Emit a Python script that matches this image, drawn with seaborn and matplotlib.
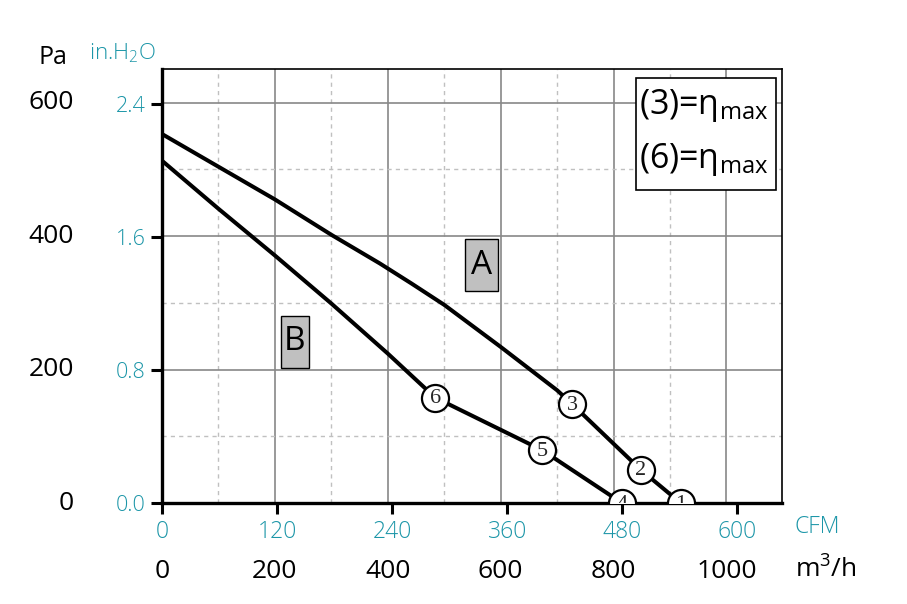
import numpy as np
import pandas as pd
import matplotlib
matplotlib.use("Agg")
import matplotlib.pyplot as plt
import seaborn as sns
from matplotlib.patches import Rectangle
from matplotlib.transforms import blended_transform_factory

# ---------------- data ----------------
curve_a_flow = [0, 100, 200, 300, 386, 442, 500, 600, 700, 727, 848, 919]
curve_a_pa = [553, 504, 455, 402, 359, 329, 297, 234, 169, 148, 50, 0]
curve_b_flow = [0, 100, 200, 300, 400, 484, 674, 815]
curve_b_pa = [513, 441, 371, 299, 224, 158, 79, 0]
point_ids = ["1", "2", "3", "4", "5", "6"]
point_flow = [919, 848, 727, 815, 674, 484]
point_pa = [0, 50, 148, 0, 79, 158]
curve_names = ["A", "B"]
pa_ticks = [0, 200, 400, 600]
inh2o_ticks = [0.0, 0.8, 1.6, 2.4]
m3h_ticks = [0, 200, 400, 600, 800, 1000]
cfm_ticks = [0, 120, 240, 360, 480, 600]

CFM_TO_M3H = 1.69901
INH2O_TO_PA = 249.089
TEAL = "#1c96a8"

sns.set_style("white")
plt.rcParams["font.family"] = ["Open Sans", "DejaVu Sans"]
plt.rcParams["mathtext.default"] = "regular"

W, H = 907, 604
fig = plt.figure(figsize=(W / 100, H / 100), dpi=100)
L, R, T, B = 162, 781.7, 69.3, 503
ax = fig.add_axes([L / W, 1 - B / H, (R - L) / W, (B - T) / H])
ax.set_xlim(0, 1098)
ax.set_ylim(0, 650)

# grid
for v in [100, 300, 500, 700, 900]:
    ax.axvline(v, color="#c0c0c0", lw=1, ls=(0, (3, 3)), zorder=0)
for v in [200, 400, 600, 800, 1000]:
    ax.axvline(v, color="#888888", lw=1.2, zorder=0)
for v in [100, 300, 500]:
    ax.axhline(v, color="#c0c0c0", lw=1, ls=(0, (3, 3)), zorder=0)
for v in [200, 400, 600]:
    ax.axhline(v, color="#888888", lw=1.2, zorder=0)

# curves
df = pd.DataFrame({
    "flow": curve_a_flow + curve_b_flow,
    "pa": curve_a_pa + curve_b_pa,
    "curve": ["A"] * len(curve_a_flow) + ["B"] * len(curve_b_flow),
})
sns.lineplot(data=df, x="flow", y="pa", units="curve", estimator=None, sort=False,
             color="black", lw=2.9, ax=ax, zorder=2)

pts = pd.DataFrame({"flow": point_flow, "pa": point_pa, "id": point_ids})
sns.scatterplot(data=pts, x="flow", y="pa", s=380, color="white", edgecolor="black",
                linewidth=1.6, ax=ax, zorder=3)
for f, p, t in zip(point_flow, point_pa, point_ids):
    ax.text(f, p - 2, t, ha="center", va="center", fontsize=16,
            family="Liberation Serif", zorder=4, clip_on=True)

# curve labels
label_boxes = {"A": (537, 595, 317, 395), "B": (210, 261, 203, 280)}
for name in curve_names:
    x0, x1, y0, y1 = label_boxes[name]
    ax.add_patch(Rectangle((x0, y0), x1 - x0, y1 - y0, fc="#c0c0c0", ec="black",
                           lw=1, zorder=3))
    ax.text((x0 + x1) / 2, (y0 + y1) / 2, name, ha="center", va="center",
            fontsize=24, color="black", zorder=4)

# spines
for s in ["left", "bottom"]:
    ax.spines[s].set_linewidth(2.4)
    ax.spines[s].set_color("black")
for s in ["top", "right"]:
    ax.spines[s].set_linewidth(1.2)
    ax.spines[s].set_color("black")
    ax.spines[s].set_visible(True)

# ticks (CFM / in.H2O positions)
ax.set_xticks([c * CFM_TO_M3H for c in cfm_ticks], labels=[str(c) for c in cfm_ticks])
ax.set_yticks([i * INH2O_TO_PA for i in inh2o_ticks], labels=[f"{i:.1f}" for i in inh2o_ticks])
ax.tick_params(axis="x", direction="out", length=8, width=2.2, colors="black",
               labelcolor=TEAL, labelsize=16.5, pad=4, bottom=True)
ax.tick_params(axis="y", direction="out", length=8, width=2.2, colors="black",
               labelcolor=TEAL, labelsize=15.5, pad=4, left=True)
for lab in ax.get_xticklabels() + ax.get_yticklabels():
    lab.set_fontweight("light")
ax.set_xlabel("")
ax.set_ylabel("")

# black primary labels
tr_y = blended_transform_factory(fig.transFigure, ax.transData)
for p in pa_ticks:
    ax.text(74 / W, p, str(p), transform=tr_y, ha="right", va="center",
            fontsize=19, color="black")
tr_x = blended_transform_factory(ax.transData, fig.transFigure)
for m in m3h_ticks:
    ax.text(m, 1 - 571 / H, str(m), transform=tr_x, ha="center", va="center",
            fontsize=19, color="black", clip_on=False)

fig.text(53 / W, 1 - 57 / H, "Pa", ha="center", va="center", fontsize=18, color="black")
fig.text(122 / W, 1 - 53 / H, r"in.H$_2$O", ha="center", va="center", fontsize=16,
         color=TEAL, fontweight="light")
fig.text(795 / W, 1 - 527 / H, "CFM", ha="left", va="center", fontsize=16.5,
         color=TEAL, fontweight="light")
fig.text(795 / W, 1 - 570 / H, r"m$^3$/h", ha="left", va="center", fontsize=19,
         color="black")

# legend box
fig.patches.append(Rectangle((636 / W, 1 - 190 / H), 140 / W, 112 / H,
                             transform=fig.transFigure, fc="white", ec="black",
                             lw=1.2, zorder=5))
for txt, yy in [("(3)=η$_{max}$", 106), ("(6)=η$_{max}$", 159)]:
    fig.text(639 / W, 1 - yy / H, txt, ha="left", va="center", fontsize=24.5,
             color="black", zorder=6)

fig.savefig("out.png", dpi=100)
